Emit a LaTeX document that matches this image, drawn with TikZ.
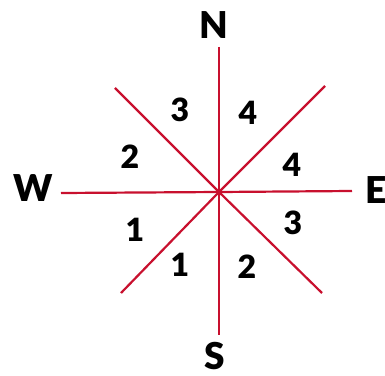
\documentclass[tikz,border=0pt]{standalone}
\usepackage{fontspec}
\newfontfamily\heavyfont{Lato Black}
\usetikzlibrary{calc}

\definecolor{rayred}{RGB}{200,16,46}

\tikzset{
  ray/.style={draw=rayred, line width=2.2pt},
  dirlabel/.style={font=\heavyfont\fontsize{37}{37}\selectfont, inner sep=0pt},
  seclabel/.style={font=\heavyfont\fontsize{32}{32}\selectfont, inner sep=0pt}
}

\begin{document}
\begin{tikzpicture}[x=1pt,y=1pt]
\useasboundingbox (-219,-183) rectangle (166,192);
\clip (-219,-183) rectangle (166,192);

\coordinate (O) at (0,0);
\coordinate (n) at (0,145);
\coordinate (s) at (0,-143);
\coordinate (w) at (-158,-1);
\coordinate (e) at (133,1);
\coordinate (nw) at (-104,104);
\coordinate (ne) at (106,106);
\coordinate (sw) at (-98,-101);
\coordinate (se) at (103,-101);

\draw[ray] (n) -- (O) -- (s);
\draw[ray] (w) -- (O) -- (e);
\draw[ray] (nw) -- (O) -- (se);
\draw[ray] (ne) -- (O) -- (sw);

\node[dirlabel] (N) at (-5,167) {N};
\node[dirlabel] (S) at (-4,-164) {S};
\node[dirlabel] (W) at (-186,4) {W};
\node[dirlabel] (E) at (157,2) {E};

\node[seclabel] (a3) at (-39,82) {3};
\node[seclabel] (b4) at (29,79) {4};
\node[seclabel] (a2) at (-89,35) {2};
\node[seclabel] (c4) at (73,27) {4};
\node[seclabel] (a1) at (-84,-38) {1};
\node[seclabel] (c3) at (74,-31) {3};
\node[seclabel] (b1) at (-39,-73) {1};
\node[seclabel] (b2) at (28,-75) {2};

\end{tikzpicture}
\end{document}
